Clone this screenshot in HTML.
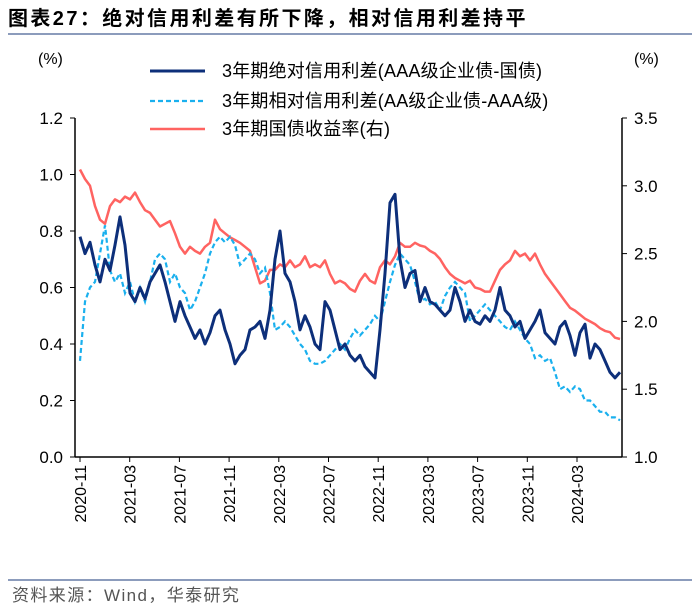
<!DOCTYPE html>
<html><head><meta charset="utf-8"><style>
body{margin:0;background:#fff;}
svg{display:block;font-family:"Liberation Sans","Noto Sans CJK SC",sans-serif;}
</style></head><body>
<svg id="chart" width="700" height="614">
<text x="8" y="25" font-size="20" font-weight="bold" letter-spacing="2.4" fill="#000">图表27：绝对信用利差有所下降，相对信用利差持平</text>
<line x1="8" y1="34" x2="692" y2="34" stroke="#1a3a7a" stroke-width="1"/>
<text x="38" y="64" font-size="16">(%)</text>
<text x="634" y="64" font-size="16">(%)</text>
<g id="axes"></g>
<g id="series"></g>
<g>
<line x1="150" y1="71" x2="205" y2="71" stroke="#0d2f7a" stroke-width="3"/>
<text x="222" y="77" font-size="18" letter-spacing="0.2">3年期绝对信用利差(AAA级企业债-国债)</text>
<line x1="150" y1="101" x2="205" y2="101" stroke="#1ab0ee" stroke-width="2.2" stroke-dasharray="5,3"/>
<text x="222" y="107" font-size="18" letter-spacing="0.2">3年期相对信用利差(AA级企业债-AAA级)</text>
<line x1="150" y1="129" x2="205" y2="129" stroke="#ff6361" stroke-width="2.5"/>
<text x="222" y="135" font-size="18" letter-spacing="0.2">3年期国债收益率(右)</text>
</g>
<line x1="8" y1="580" x2="692" y2="580" stroke="#1a3a7a" stroke-width="1"/>
<text x="12" y="601" font-size="17" letter-spacing="1.4" fill="#555">资料来源：Wind，华泰研究</text>
</svg>
<script>
const leftTicks=[0.0,0.2,0.4,0.6,0.8,1.0,1.2];
const rightTicks=[1.0,1.5,2.0,2.5,3.0,3.5];
const xTickLabels=["2020-11","2021-03","2021-07","2021-11","2022-03","2022-07","2022-11","2023-03","2023-07","2023-11","2024-03"];
const absSpread=[0.78,0.72,0.76,0.68,0.62,0.70,0.66,0.75,0.85,0.75,0.58,0.55,0.60,0.56,0.62,0.65,0.68,0.62,0.55,0.48,0.55,0.50,0.46,0.42,0.45,0.40,0.44,0.50,0.52,0.45,0.40,0.33,0.36,0.38,0.45,0.46,0.48,0.42,0.52,0.70,0.80,0.65,0.62,0.55,0.45,0.50,0.46,0.40,0.38,0.55,0.52,0.45,0.38,0.40,0.36,0.34,0.36,0.32,0.30,0.28,0.45,0.65,0.90,0.93,0.70,0.60,0.65,0.66,0.55,0.60,0.55,0.54,0.52,0.50,0.52,0.60,0.55,0.48,0.52,0.48,0.47,0.50,0.48,0.52,0.60,0.52,0.50,0.46,0.48,0.42,0.45,0.48,0.52,0.44,0.42,0.40,0.46,0.48,0.43,0.36,0.44,0.47,0.35,0.40,0.38,0.34,0.30,0.28,0.30];
const relSpread=[0.34,0.55,0.60,0.62,0.72,0.82,0.66,0.62,0.65,0.58,0.62,0.55,0.60,0.55,0.62,0.70,0.72,0.70,0.62,0.65,0.60,0.58,0.52,0.55,0.60,0.65,0.72,0.76,0.78,0.76,0.78,0.75,0.68,0.70,0.72,0.70,0.65,0.67,0.58,0.45,0.46,0.48,0.46,0.43,0.40,0.38,0.34,0.33,0.33,0.34,0.36,0.38,0.40,0.38,0.42,0.45,0.43,0.45,0.47,0.50,0.48,0.55,0.62,0.68,0.72,0.70,0.68,0.62,0.55,0.56,0.54,0.55,0.52,0.57,0.60,0.62,0.60,0.58,0.48,0.50,0.52,0.54,0.52,0.50,0.48,0.46,0.45,0.48,0.45,0.42,0.40,0.35,0.36,0.34,0.35,0.30,0.24,0.25,0.23,0.25,0.24,0.20,0.20,0.18,0.16,0.16,0.14,0.14,0.13];
const govYield=[3.12,3.05,3.00,2.85,2.75,2.72,2.85,2.90,2.88,2.92,2.90,2.95,2.88,2.82,2.80,2.75,2.70,2.72,2.74,2.65,2.55,2.50,2.55,2.52,2.50,2.55,2.58,2.75,2.68,2.65,2.62,2.60,2.58,2.55,2.52,2.40,2.28,2.30,2.38,2.38,2.42,2.40,2.45,2.40,2.42,2.48,2.40,2.42,2.40,2.45,2.35,2.28,2.30,2.28,2.24,2.22,2.30,2.35,2.30,2.28,2.40,2.45,2.42,2.48,2.58,2.55,2.55,2.58,2.56,2.55,2.52,2.50,2.46,2.40,2.35,2.32,2.30,2.28,2.30,2.25,2.24,2.22,2.22,2.30,2.38,2.42,2.45,2.52,2.48,2.50,2.45,2.50,2.42,2.35,2.30,2.25,2.20,2.15,2.10,2.08,2.05,2.02,2.00,1.98,1.95,1.93,1.92,1.88,1.87];

const NS="http://www.w3.org/2000/svg";
const X0=80,X1=620,PL=75,PR=622,YT=118,YB=457;
const yL=v=>YB-(v-0)/(1.2-0)*(YB-YT);
const yR=v=>YB-(v-1.0)/(3.5-1.0)*(YB-YT);
const xIdx=(i,n)=>X0+i*(X1-X0)/(n-1);
const xMonth=m=>80+m*49.7/4;
function mk(tag,attrs,parent){const e=document.createElementNS(NS,tag);for(const k in attrs)e.setAttribute(k,attrs[k]);parent.appendChild(e);return e;}
const ax=document.getElementById('axes');
let e=mk('line',{x1:PL,y1:YT,x2:PL,y2:YB,stroke:'#000','stroke-width':1.5},ax);


e=mk('line',{x1:PR,y1:YT,x2:PR,y2:YB,stroke:'#000','stroke-width':1.5},ax);


e=mk('line',{x1:PL,y1:YB,x2:PR,y2:YB,stroke:'#000','stroke-width':1.5},ax);


leftTicks.forEach(v=>{const y=yL(v);
 let t=mk('line',{x1:PL-5,y1:y,x2:PL,y2:y,stroke:'#000'},ax);
 
 
 t=mk('text',{x:PL-12,y:y+6,'font-size':17,'text-anchor':'end'},ax);t.textContent=v.toFixed(1);
 
 });
rightTicks.forEach(v=>{const y=yR(v);
 let t=mk('line',{x1:PR,y1:y,x2:PR+5,y2:y,stroke:'#000'},ax);
 
 
 t=mk('text',{x:PR+12,y:y+6,'font-size':17},ax);t.textContent=v.toFixed(1);
 
 });
xTickLabels.forEach((lab,i)=>{const x=xMonth(i*4);
 let t=mk('line',{x1:x,y1:YB,x2:x,y2:YB+5,stroke:'#000'},ax);
 
 
 t=mk('text',{x:0,y:0,'font-size':16,'text-anchor':'end',transform:`translate(${x+6},${YB+8}) rotate(-90)`},ax);t.textContent=lab;
 
 });
const sg=document.getElementById('series');
function path(arr,ys){return arr.map((v,i)=>(i?'L':'M')+xIdx(i,arr.length).toFixed(1)+','+ys(v).toFixed(1)).join('');}
let p=mk('path',{d:path(govYield,yR),fill:'none',stroke:'#ff6361','stroke-width':2.5,'stroke-linejoin':'round'},sg);


p=mk('path',{d:path(relSpread,yL),fill:'none',stroke:'#1ab0ee','stroke-width':2.2,'stroke-dasharray':'5,3'},sg);


p=mk('path',{d:path(absSpread,yL),fill:'none',stroke:'#0d2f7a','stroke-width':3,'stroke-linejoin':'round'},sg);


</script>
</body></html>
